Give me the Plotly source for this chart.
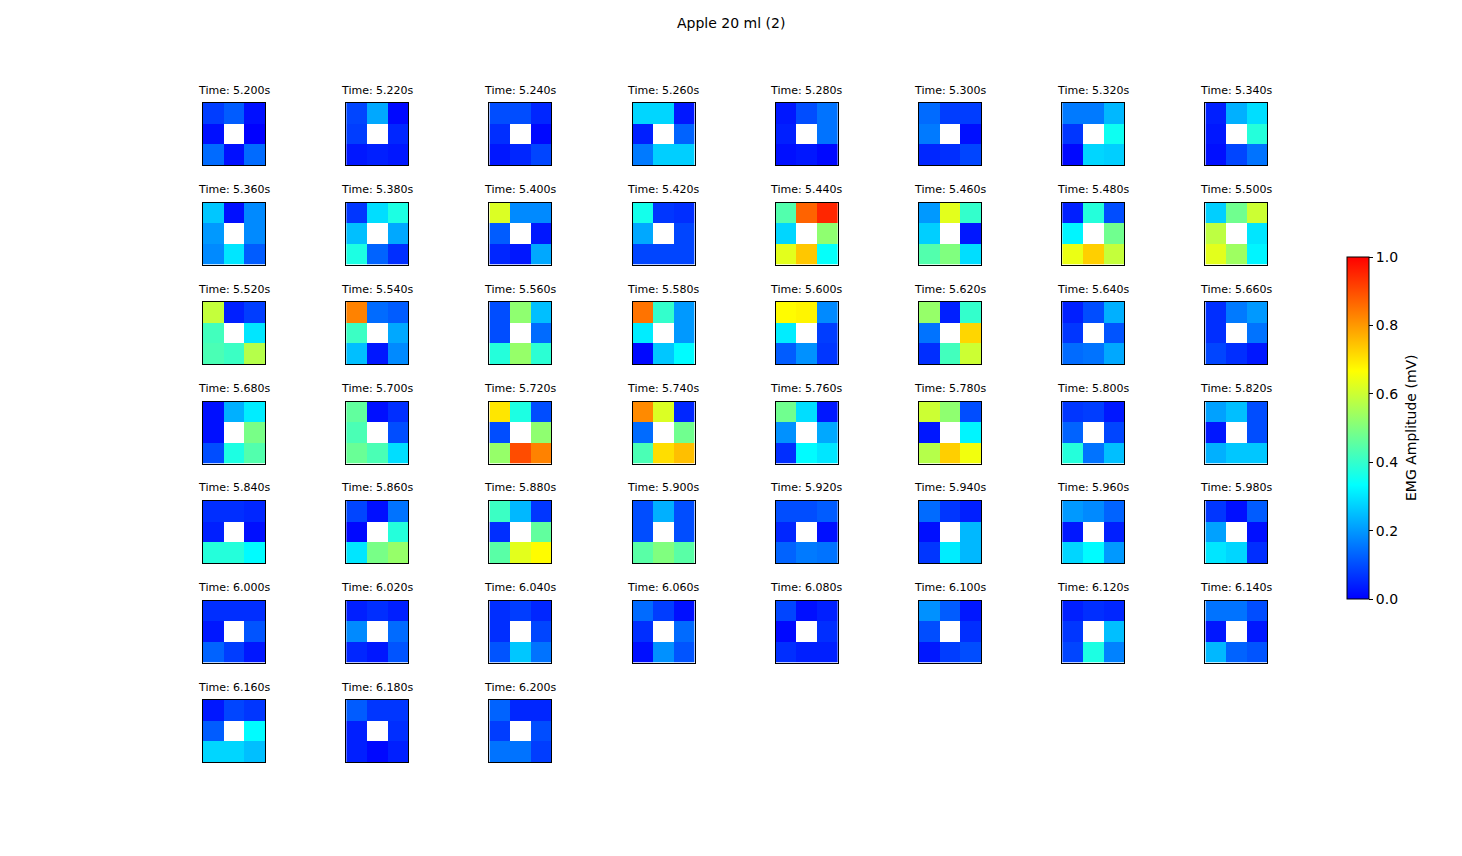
import plotly.graph_objects as go

N = None
time_labels_row1 = ["5.200", "5.220", "5.240", "5.260", "5.280", "5.300", "5.320", "5.340"]
time_labels_row2 = ["5.360", "5.380", "5.400", "5.420", "5.440", "5.460", "5.480", "5.500"]
time_labels_row3 = ["5.520", "5.540", "5.560", "5.580", "5.600", "5.620", "5.640", "5.660"]
time_labels_row4 = ["5.680", "5.700", "5.720", "5.740", "5.760", "5.780", "5.800", "5.820"]
time_labels_row5 = ["5.840", "5.860", "5.880", "5.900", "5.920", "5.940", "5.960", "5.980"]
time_labels_row6 = ["6.000", "6.020", "6.040", "6.060", "6.080", "6.100", "6.120", "6.140"]
time_labels_row7 = ["6.160", "6.180", "6.200"]

frames_row1 = [
    [[0.08, 0.12, 0.02], [0.02, N, 0.00], [0.14, 0.02, 0.14]],
    [[0.09, 0.22, 0.01], [0.08, N, 0.05], [0.03, 0.04, 0.03]],
    [[0.10, 0.10, 0.05], [0.06, N, 0.01], [0.03, 0.05, 0.09]],
    [[0.28, 0.28, 0.03], [0.04, N, 0.13], [0.16, 0.27, 0.27]],
    [[0.03, 0.10, 0.15], [0.04, N, 0.15], [0.02, 0.03, 0.01]],
    [[0.14, 0.08, 0.08], [0.16, N, 0.02], [0.05, 0.06, 0.09]],
    [[0.16, 0.16, 0.24], [0.07, N, 0.35], [0.01, 0.28, 0.27]],
    [[0.04, 0.23, 0.29], [0.03, N, 0.38], [0.02, 0.09, 0.15]],
]
frames_row2 = [
    [[0.26, 0.02, 0.18], [0.20, N, 0.18], [0.18, 0.30, 0.12]],
    [[0.07, 0.29, 0.37], [0.25, N, 0.22], [0.37, 0.13, 0.06]],
    [[0.62, 0.18, 0.18], [0.12, N, 0.03], [0.05, 0.03, 0.22]],
    [[0.36, 0.07, 0.06], [0.22, N, 0.09], [0.09, 0.09, 0.09]],
    [[0.44, 0.87, 0.95], [0.28, N, 0.52], [0.63, 0.74, 0.34]],
    [[0.20, 0.63, 0.40], [0.27, N, 0.03], [0.44, 0.50, 0.29]],
    [[0.04, 0.38, 0.10], [0.32, N, 0.48], [0.64, 0.73, 0.59]],
    [[0.27, 0.48, 0.60], [0.58, N, 0.30], [0.63, 0.54, 0.32]],
]
frames_row3 = [
    [[0.59, 0.04, 0.08], [0.42, N, 0.30], [0.43, 0.41, 0.57]],
    [[0.83, 0.14, 0.12], [0.41, N, 0.22], [0.25, 0.03, 0.18]],
    [[0.10, 0.52, 0.25], [0.10, N, 0.14], [0.38, 0.53, 0.39]],
    [[0.85, 0.40, 0.20], [0.31, N, 0.20], [0.01, 0.26, 0.33]],
    [[0.67, 0.68, 0.18], [0.31, N, 0.08], [0.12, 0.19, 0.07]],
    [[0.53, 0.04, 0.40], [0.15, N, 0.72], [0.06, 0.42, 0.60]],
    [[0.04, 0.10, 0.23], [0.07, N, 0.11], [0.14, 0.15, 0.22]],
    [[0.06, 0.16, 0.20], [0.06, N, 0.15], [0.09, 0.06, 0.03]],
]
frames_row4 = [
    [[0.02, 0.23, 0.31], [0.02, N, 0.49], [0.10, 0.37, 0.44]],
    [[0.46, 0.02, 0.06], [0.43, N, 0.10], [0.47, 0.43, 0.29]],
    [[0.70, 0.37, 0.10], [0.10, N, 0.52], [0.53, 0.90, 0.83]],
    [[0.82, 0.62, 0.05], [0.14, N, 0.48], [0.43, 0.71, 0.75]],
    [[0.48, 0.29, 0.03], [0.19, N, 0.22], [0.06, 0.33, 0.30]],
    [[0.60, 0.52, 0.10], [0.03, N, 0.32], [0.57, 0.73, 0.65]],
    [[0.07, 0.08, 0.03], [0.13, N, 0.09], [0.38, 0.15, 0.25]],
    [[0.21, 0.25, 0.10], [0.03, N, 0.10], [0.23, 0.26, 0.26]],
]
frames_row5 = [
    [[0.06, 0.06, 0.05], [0.04, N, 0.02], [0.38, 0.38, 0.33]],
    [[0.09, 0.02, 0.15], [0.01, N, 0.38], [0.30, 0.49, 0.53]],
    [[0.41, 0.24, 0.07], [0.06, N, 0.46], [0.45, 0.63, 0.67]],
    [[0.10, 0.23, 0.10], [0.10, N, 0.10], [0.45, 0.50, 0.45]],
    [[0.10, 0.10, 0.12], [0.05, N, 0.02], [0.13, 0.16, 0.15]],
    [[0.14, 0.07, 0.04], [0.02, N, 0.24], [0.07, 0.31, 0.24]],
    [[0.20, 0.18, 0.13], [0.03, N, 0.04], [0.28, 0.33, 0.20]],
    [[0.07, 0.02, 0.12], [0.21, N, 0.02], [0.30, 0.28, 0.06]],
]
frames_row6 = [
    [[0.06, 0.06, 0.06], [0.03, N, 0.11], [0.13, 0.08, 0.03]],
    [[0.04, 0.06, 0.04], [0.18, N, 0.14], [0.05, 0.03, 0.11]],
    [[0.06, 0.08, 0.05], [0.06, N, 0.09], [0.11, 0.26, 0.15]],
    [[0.14, 0.08, 0.02], [0.06, N, 0.14], [0.02, 0.19, 0.11]],
    [[0.09, 0.02, 0.04], [0.01, N, 0.06], [0.06, 0.04, 0.04]],
    [[0.19, 0.12, 0.03], [0.10, N, 0.06], [0.03, 0.08, 0.10]],
    [[0.04, 0.06, 0.05], [0.07, N, 0.25], [0.09, 0.37, 0.17]],
    [[0.15, 0.15, 0.10], [0.03, N, 0.03], [0.24, 0.13, 0.11]],
]
frames_row7 = [
    [[0.03, 0.09, 0.07], [0.12, N, 0.33], [0.28, 0.28, 0.25]],
    [[0.12, 0.07, 0.07], [0.04, N, 0.06], [0.04, 0.01, 0.04]],
    [[0.13, 0.05, 0.05], [0.08, N, 0.10], [0.15, 0.15, 0.08]],
]

cbar_ticks = [0.0, 0.2, 0.4, 0.6, 0.8, 1.0]
cbar_ticktext = ["0.0", "0.2", "0.4", "0.6", "0.8", "1.0"]

labels = (time_labels_row1 + time_labels_row2 + time_labels_row3 + time_labels_row4
          + time_labels_row5 + time_labels_row6 + time_labels_row7)
frames = (frames_row1 + frames_row2 + frames_row3 + frames_row4
          + frames_row5 + frames_row6 + frames_row7)

W, H = 1462, 856
col_left0, col_step = 203.0, 143.2
row_top0, row_step = 103.0, 99.5
size = 62.0

colorscale = [[0.0, "rgb(0,0,255)"], [1/3, "rgb(0,255,255)"],
              [2/3, "rgb(255,255,0)"], [1.0, "rgb(255,0,0)"]]

fig = go.Figure()
layout = dict()
annotations = []
for i, (lab, z) in enumerate(zip(labels, frames)):
    r, c = divmod(i, 8)
    left = col_left0 + col_step * c
    top = row_top0 + row_step * r
    n = "" if i == 0 else str(i + 1)
    fig.add_trace(go.Heatmap(z=z, x=[0, 1, 2], y=[0, 1, 2], coloraxis="coloraxis",
                             xaxis="x" + n, yaxis="y" + n, hoverongaps=False))
    axcommon = dict(showgrid=False, zeroline=False, showticklabels=False, ticks="",
                    showline=True, mirror=True, linecolor="black", linewidth=1)
    layout["xaxis" + n] = dict(domain=[left / W, (left + size) / W], range=[-0.5, 2.5],
                               anchor="y" + n, **axcommon)
    layout["yaxis" + n] = dict(domain=[1 - (top + size) / H, 1 - top / H], range=[2.5, -0.5],
                               anchor="x" + n, **axcommon)
    annotations.append(dict(text="Time: %ss" % lab, x=(left + size / 2) / W, y=1 - (top - 13) / H,
                            xref="paper", yref="paper", showarrow=False, xanchor="center",
                            yanchor="middle", font=dict(size=11, color="black")))

annotations.append(dict(text="Apple 20 ml (2)", x=731 / W, y=1 - 23 / H, xref="paper", yref="paper",
                        showarrow=False, xanchor="center", yanchor="middle",
                        font=dict(size=14, color="black")))
annotations.append(dict(text="EMG Amplitude (mV)", x=1411 / W, y=1 - 428 / H, xref="paper",
                        yref="paper", showarrow=False, xanchor="center", yanchor="middle",
                        textangle=-90, font=dict(size=14, color="black")))

fig.update_layout(
    width=W, height=H, margin=dict(l=0, r=0, t=0, b=0),
    paper_bgcolor="white", plot_bgcolor="white",
    font=dict(family="DejaVu Sans", color="black"),
    coloraxis=dict(colorscale=colorscale, cmin=0, cmax=1,
                   colorbar=dict(x=1347 / W, xanchor="left", y=1 - 428 / H, yanchor="middle",
                                 len=342 / H, lenmode="fraction", thickness=22,
                                 thicknessmode="pixels", xpad=0, ypad=0,
                                 outlinewidth=1, outlinecolor="black",
                                 ticks="outside", ticklen=4, tickwidth=1, tickcolor="black",
                                 tickvals=cbar_ticks, ticktext=cbar_ticktext,
                                 tickfont=dict(size=14, color="black"))),
    annotations=annotations,
    **layout,
)

fig.write_html("out.html")
